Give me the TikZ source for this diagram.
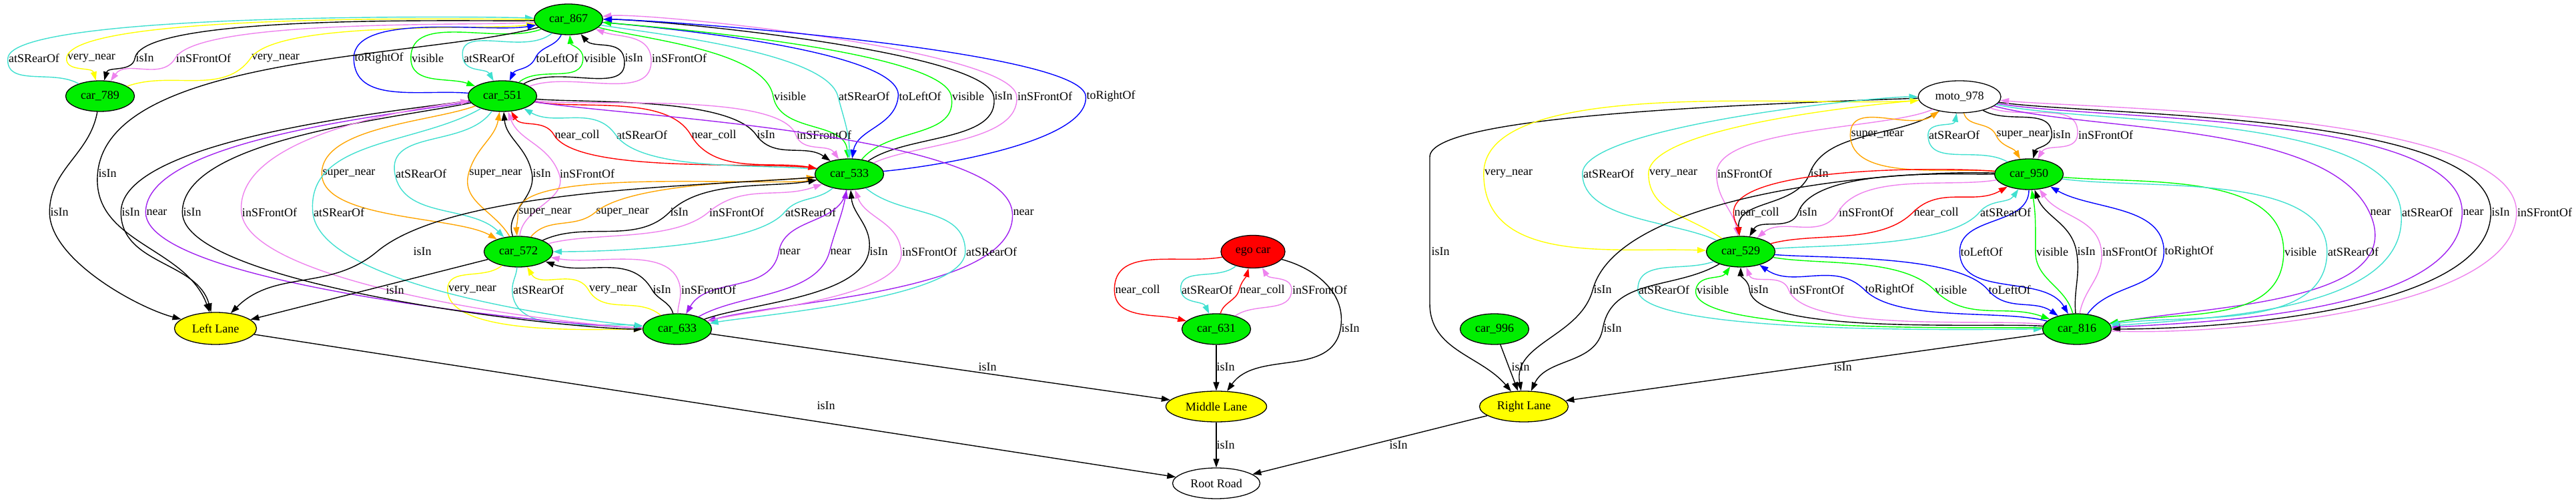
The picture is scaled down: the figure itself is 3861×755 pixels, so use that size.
\documentclass[tikz,border=0pt]{standalone}
\usepackage{fontspec}
\setmainfont{Liberation Serif}
\usetikzlibrary{shapes.geometric,arrows.meta}
\definecolor{cfill}{HTML}{00EE00}
\definecolor{cg}{HTML}{00FF00}
\definecolor{ctq}{HTML}{40E0D0}
\definecolor{cvio}{HTML}{EE82EE}
\definecolor{cpur}{HTML}{A020F0}
\definecolor{corn}{HTML}{FFA500}
\definecolor{cblu}{HTML}{0000FF}
\definecolor{cyel}{HTML}{FFFF00}
\definecolor{cred}{HTML}{FF0000}
\newcounter{lblc}
\newcommand\ed[9][]{%
  \stepcounter{lblc}%
  \edef\lname{L\arabic{lblc}}%
  \node[lbl] (\lname) at (#5) {#6};
  \pgfmathsetmacro\inW{#8+180}%
  \draw[#2,#1] (#3) to[out=#7,in=\inW] (\lname.west) to[out=#8,in=#9] (#4);
}
\tikzset{
  lbl/.style={font=\fontsize{18}{20}\selectfont, inner sep=1pt},
  nd/.style={ellipse, draw, line width=1.3pt, minimum width=103pt, minimum height=46pt, inner sep=0pt, font=\fontsize{18}{20}\selectfont},
  car/.style={nd, fill=cfill},
  ea/.style={line width=1.4pt, -{Triangle[length=13pt,width=9pt]}, max distance=70pt},
  etq/.style={ea, draw=ctq},
  evio/.style={ea, draw=cvio},
  epur/.style={ea, draw=cpur},
  eorn/.style={ea, draw=corn},
  eblu/.style={ea, draw=cblu},
  egrn/.style={ea, draw=cg},
  eyel/.style={ea, draw=cyel},
  ered/.style={ea, draw=cred},
  eblk/.style={ea, draw=black},
}
\begin{document}
\begin{tikzpicture}[x=1pt,y=1pt]
\useasboundingbox (0,0) rectangle (3861,755);
\fill[white] (0,0) rectangle (3861,755);
% nodes
\node[car] (c867) at (852,726) {car\_867};
\node[car] (c789) at (150,611) {car\_789};
\node[car] (c551) at (753,611) {car\_551};
\node[car] (c533) at (1273,494) {car\_533};
\node[car] (c572) at (777,378) {car\_572};
\node[car] (c633) at (1015,262) {car\_633};
\node[nd, fill=cyel, minimum width=123pt, minimum height=48pt] (LL) at (323,263) {Left Lane};
\node[nd, fill=cred, minimum width=96pt, minimum height=49pt] (ego) at (1878,378) {ego car};
\node[car] (c631) at (1823,262) {car\_631};
\node[nd, fill=cyel, minimum width=151pt] (ML) at (1823,146) {Middle Lane};
\node[nd, minimum width=131pt] (RR) at (1823,31) {Root Road};
\node[car] (c996) at (2240,262) {car\_996};
\node[nd, fill=cyel, minimum width=133pt] (RL) at (2284,146) {Right Lane};
\node[nd, minimum width=124pt, minimum height=48pt] (moto) at (2937,610) {moto\_978};
\node[car] (c950) at (3041,494) {car\_950};
\node[car] (c529) at (2609,378) {car\_529};
\node[car] (c816) at (3113,262) {car\_816};
% c867 - c789
\ed{etq}{c789}{c867}{51,668}{atSRearOf}{150}{85}{178}
\ed{eyel}{c867}{c789}{137,668}{very\_near}{180}{-95}{105}
\ed{eblk}{c867}{c789}{217,668}{isIn}{182}{-100}{75}
\ed{evio}{c867}{c789}{305,668}{inSFrontOf}{185}{-120}{55}
\ed{eyel}{c789}{c867}{413,668}{very\_near}{20}{55}{188}
% c867 - c551
\ed{eblu}{c551}{c867}{568,668}{toRightOf}{175}{90}{190}
\ed{egrn}{c867}{c551}{641,668}{visible}{200}{-90}{160}
\ed{etq}{c867}{c551}{733,668}{atSRearOf}{220}{-80}{120}
\ed{eblu}{c867}{c551}{835,668}{toLeftOf}{-115}{-115}{65}
\ed{egrn}{c551}{c867}{899,668}{visible}{40}{90}{-85}
\ed{eblk}{c551}{c867}{950,668}{isIn}{30}{100}{-50}
\ed{evio}{c551}{c867}{1018,668}{inSFrontOf}{20}{95}{-20}
% c867 - c533
\ed{egrn}{c867}{c533}{1184,611}{visible}{-15}{-80}{95}
\ed{etq}{c867}{c533}{1295,611}{atSRearOf}{-10}{-75}{90}
\ed{eblu}{c867}{c533}{1379,611}{toLeftOf}{-5}{-95}{80}
\ed{egrn}{c533}{c867}{1451,611}{visible}{50}{100}{-5}
\ed{eblk}{c533}{c867}{1504,611}{isIn}{35}{100}{0}
\ed{evio}{c533}{c867}{1566,611}{inSFrontOf}{25}{95}{5}
\ed{eblu}{c533}{c867}{1665,611}{toRightOf}{5}{95}{0}
% c551 - c533
\ed{ered}{c533}{c551}{865,553}{near\_coll}{170}{120}{-60}
\ed{etq}{c533}{c551}{962,553}{atSRearOf}{172}{125}{-30}
\ed{ered}{c551}{c533}{1070,553}{near\_coll}{-10}{-60}{170}
\ed{eblk}{c551}{c533}{1148,553}{isIn}{-5}{-55}{145}
\ed{evio}{c551}{c533}{1235,553}{inSFrontOf}{-8}{-70}{125}
\ed[max distance=120pt]{epur}{c551}{c633}{1534,437}{near}{-10}{-85}{15}
% c551 - c572
\ed{eorn}{c551}{c572}{523,495}{super\_near}{200}{-90}{150}
\ed{etq}{c551}{c572}{631,495}{atSRearOf}{235}{-80}{135}
\ed{eorn}{c572}{c551}{743,495}{super\_near}{120}{75}{-100}
\ed{eblk}{c572}{c551}{812,495}{isIn}{110}{100}{-85}
\ed{evio}{c572}{c551}{880,495}{inSFrontOf}{85}{110}{-70}
% c533 - c572
\ed{eorn}{c533}{c572}{817,437}{super\_near}{190}{-90}{95}
\ed{eorn}{c572}{c533}{933,437}{super\_near}{50}{40}{185}
\ed{eblk}{c572}{c533}{1018,437}{isIn}{25}{45}{190}
\ed{evio}{c572}{c533}{1104,437}{inSFrontOf}{15}{40}{200}
\ed{etq}{c533}{c572}{1215,437}{atSRearOf}{220}{-130}{0}
% c533 - c633
\ed{epur}{c533}{c633}{1184,378}{near}{-100}{-100}{60}
\ed{epur}{c633}{c533}{1260,378}{near}{30}{75}{-100}
\ed{eblk}{c633}{c533}{1317,378}{isIn}{20}{80}{-85}
\ed{evio}{c633}{c533}{1393,378}{inSFrontOf}{15}{95}{-70}
\ed{etq}{c533}{c633}{1486,378}{atSRearOf}{-40}{-90}{10}
% c572 - c633
\ed{eyel}{c572}{c633}{708,321}{very\_near}{220}{-90}{180}
\ed{etq}{c572}{c633}{807,321}{atSRearOf}{-95}{-90}{175}
\ed{eyel}{c633}{c572}{919,321}{very\_near}{140}{120}{-60}
\ed{eblk}{c633}{c572}{992,321}{isIn}{105}{120}{-20}
\ed{evio}{c633}{c572}{1062,321}{inSFrontOf}{88}{95}{-10}
% left side
\ed{eblk}{c789}{LL}{89,437}{isIn}{-100}{-90}{165}
\ed[max distance=180pt]{eblk}{c867}{LL}{161,495}{isIn}{195}{-95}{110}
\ed[max distance=110pt]{eblk}{c551}{LL}{196,437}{isIn}{188}{-90}{105}
\ed[max distance=110pt]{epur}{c551}{c633}{235,437}{near}{190}{-90}{178}
\ed[max distance=110pt]{eblk}{c551}{c633}{288,437}{isIn}{192}{-90}{180}
\ed[max distance=110pt]{evio}{c633}{c551}{404,437}{inSFrontOf}{178}{95}{188}
\ed[max distance=110pt]{etq}{c551}{c633}{508,437}{atSRearOf}{210}{-85}{175}
\draw[eblk] (c572) -- (LL);
\node[lbl] (L53) at (592,320) {isIn};
\coordinate (w54) at (565,378);
\node[lbl] (L54) at (633,378) {isIn};
\draw[eblk, max distance=150pt] (c533) to[out=185,in=40] (w54) to[out=-140,in=45] (LL);
% middle
\draw[eblk] (LL) -- (RR);
\node[lbl] (L55) at (1238,147) {isIn};
\draw[eblk] (c633) -- (ML);
\node[lbl] (L56) at (1480,205) {isIn};
\ed{ered}{ego}{c631}{1705,321}{near\_coll}{190}{-90}{165}
\ed{etq}{ego}{c631}{1809,321}{atSRearOf}{220}{-85}{115}
\ed{ered}{c631}{ego}{1892,321}{near\_coll}{75}{75}{-105}
\ed{evio}{c631}{ego}{1978,321}{inSFrontOf}{35}{90}{-60}
\ed[max distance=100pt]{eblk}{ego}{ML}{2024,263}{isIn}{-15}{-100}{55}
\draw[eblk] (c631) -- (ML);
\node[lbl] (L62) at (1837,205) {isIn};
\draw[eblk] (ML) -- (RR);
\node[lbl] (L63) at (1837,88) {isIn};
\draw[eblk] (RL) -- (RR);
\node[lbl] (L64) at (2096,88) {isIn};
\draw[eblk] (c996) -- (RL);
\node[lbl] (L65) at (2279,205) {isIn};
% right cluster
\coordinate (w66a) at (2143,520);
\coordinate (w66b) at (2143,300);
\node[lbl] (L66) at (2159,378) {isIn};
\draw[eblk] (moto) to[out=182,in=90,out distance=300pt,in distance=60pt] (w66a) -- (w66b) to[out=-90,in=130] (RL);
\ed[max distance=150pt]{eyel}{moto}{c529}{2261,495}{very\_near}{185}{-90}{178}
\ed{etq}{c529}{moto}{2411,495}{atSRearOf}{155}{90}{180}
\ed{eyel}{c529}{moto}{2508,495}{very\_near}{145}{90}{185}
\ed{evio}{moto}{c529}{2615,495}{inSFrontOf}{205}{-90}{100}
\ed{eblk}{moto}{c529}{2727,495}{isIn}{215}{-110}{95}
\ed{eorn}{c950}{moto}{2814,553}{super\_near}{175}{90}{215}
\ed{etq}{c950}{moto}{2929,553}{atSRearOf}{150}{90}{-100}
\ed{eorn}{moto}{c950}{3032,553}{super\_near}{-75}{-65}{120}
\ed{eblk}{moto}{c950}{3090,553}{isIn}{-30}{-90}{75}
\ed{evio}{moto}{c950}{3156,553}{inSFrontOf}{-20}{-95}{60}
\ed[max distance=150pt]{epur}{moto}{c816}{3568,437}{near}{-15}{-65}{10}
\ed[max distance=150pt]{etq}{moto}{c816}{3638,437}{atSRearOf}{-12}{-85}{5}
\ed[max distance=150pt]{epur}{moto}{c816}{3707,437}{near}{-10}{-90}{3}
\ed[max distance=150pt]{eblk}{moto}{c816}{3748,437}{isIn}{-8}{-90}{0}
\ed[max distance=150pt]{evio}{c816}{moto}{3814,437}{inSFrontOf}{-3}{90}{-5}
\ed[max distance=120pt]{egrn}{c950}{c816}{3448,378}{visible}{-5}{-90}{10}
\ed[max distance=120pt]{etq}{c950}{c816}{3527,378}{atSRearOf}{-8}{-90}{8}
\ed{eblu}{c950}{c816}{2970,378}{toLeftOf}{-90}{-90}{120}
\ed{egrn}{c816}{c950}{3076,378}{visible}{105}{90}{-80}
\ed{eblk}{c816}{c950}{3127,378}{isIn}{95}{100}{-70}
\ed{evio}{c816}{c950}{3192,378}{inSFrontOf}{80}{95}{-55}
\ed{eblu}{c816}{c950}{3281,378}{toRightOf}{55}{90}{-30}
\ed{ered}{c950}{c529}{2633,437}{near\_coll}{175}{-90}{95}
\ed{eblk}{c950}{c529}{2710,437}{isIn}{180}{-110}{60}
\ed{evio}{c950}{c529}{2797,437}{inSFrontOf}{190}{-120}{40}
\ed{ered}{c529}{c950}{2902,437}{near\_coll}{15}{45}{210}
\ed{etq}{c529}{c950}{3006,437}{atSRearOf}{5}{50}{235}
\ed{etq}{c529}{c816}{2494,321}{atSRearOf}{200}{-90}{180}
\ed{egrn}{c816}{c529}{2567,321}{visible}{178}{80}{-125}
\ed{eblk}{c816}{c529}{2637,321}{isIn}{175}{95}{-90}
\ed{evio}{c816}{c529}{2723,321}{inSFrontOf}{172}{110}{-70}
\ed{eblu}{c816}{c529}{2832,321}{toRightOf}{165}{135}{-35}
\ed{egrn}{c529}{c816}{2924,321}{visible}{-10}{-45}{160}
\ed{eblu}{c529}{c816}{3012,321}{toLeftOf}{-5}{-50}{145}
\ed[max distance=150pt]{eblk}{c950}{RL}{2402,321}{isIn}{178}{-105}{100}
\ed[max distance=100pt]{eblk}{c529}{RL}{2417,263}{isIn}{210}{-100}{65}
\draw[eblk] (c816) -- (RL);
\node[lbl] (L103) at (2762,205) {isIn};
\end{tikzpicture}
\end{document}
